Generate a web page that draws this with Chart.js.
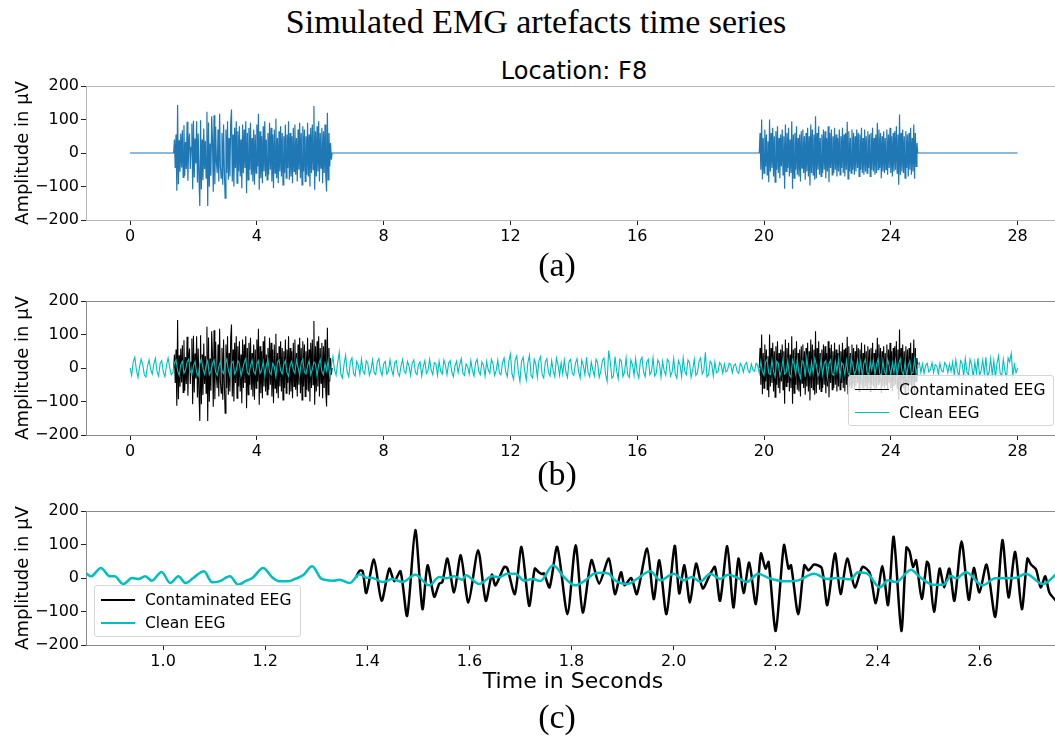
<!DOCTYPE html>
<html>
<head>
<meta charset="utf-8">
<script src="https://cdn.jsdelivr.net/npm/chart.js@4.4.1/dist/chart.umd.min.js"></script>
<style>
  body { margin: 0; background: #fff; }
  #wrap { position: relative; width: 1055px; height: 737px; overflow: hidden; background: #fff; }
  canvas { position: absolute; left: 0; }
  .txt { position: absolute; transform: translate(-50%, -50%); white-space: nowrap; color: #000; }
  .serif { font-family: 'Liberation Serif', 'DejaVu Serif', serif; }
  .sans { font-family: 'DejaVu Sans', sans-serif; }
  .legend { position: absolute; background: rgba(255,255,255,0.8); border: 1px solid #d6d6d6; border-radius: 3px;
            font-family: 'DejaVu Sans', sans-serif; font-size: 15.5px; color: #000; box-sizing: border-box; }
  .legend .row { position: absolute; left: 0; height: 20px; line-height: 20px; }
  .legend .sw { position: absolute; left: 6px; top: 9px; width: 34px; }
  .legend .lab { position: absolute; left: 50px; top: 0; white-space: nowrap; }
</style>
</head>
<body>
<div id="wrap">
  <div class="txt serif" style="left:536px; top:22px; font-size:34px;">Simulated EMG artefacts time series</div>
  <div class="txt sans" style="left:574px; top:71px; font-size:24px;">Location: F8</div>

  <canvas id="chartA" width="1055" height="176" style="top:74px"></canvas>
  <canvas id="chartB" width="1055" height="176" style="top:289px"></canvas>
  <canvas id="chartC" width="1055" height="176" style="top:499px"></canvas>

  <div class="txt serif" style="left:557px; top:265px; font-size:34px;">(a)</div>
  <div class="txt serif" style="left:557px; top:474px; font-size:34px;">(b)</div>
  <div class="txt sans" style="left:573px; top:680px; font-size:22px;">Time in Seconds</div>
  <div class="txt serif" style="left:557px; top:717px; font-size:34px;">(c)</div>

  <div class="legend" style="left:848px; top:375px; width:206px; height:51px;">
    <div class="row" style="top:4px; width:100%;"><span class="sw" style="border-top:1.5px solid #000"></span><span class="lab">Contaminated EEG</span></div>
    <div class="row" style="top:27px; width:100%;"><span class="sw" style="border-top:1.5px solid #00bfbf"></span><span class="lab">Clean EEG</span></div>
  </div>
  <div class="legend" style="left:94px; top:585px; width:207px; height:52px;">
    <div class="row" style="top:4px; width:100%;"><span class="sw" style="border-top:2.5px solid #000"></span><span class="lab">Contaminated EEG</span></div>
    <div class="row" style="top:27px; width:100%;"><span class="sw" style="border-top:2.5px solid #00bfbf"></span><span class="lab">Clean EEG</span></div>
  </div>
</div>

<script>
// ---- axes ----
const yTicks = [-200, -100, 0, 100, 200];
const yTickLabels = ['\u2212200', '\u2212100', '0', '100', '200'];
const longTicks = [0, 4, 8, 12, 16, 20, 24, 28];
const longTickLabels = ['0', '4', '8', '12', '16', '20', '24', '28'];
const zoomTicks = [1.0, 1.2, 1.4, 1.6, 1.8, 2.0, 2.2, 2.4, 2.6];
const zoomTickLabels = ['1.0', '1.2', '1.4', '1.6', '1.8', '2.0', '2.2', '2.4', '2.6'];

// ---- panels (a) / (b): EMG bursts, sampled every 0.025 s ----
const recordEdges = [0, 28];
const burst1Start = 1.375;
const burst2Start = 19.85;
const burstStep = 0.025;
const emgBurst1 = [
  0, 40, -45, 55, -113, 143, -93, 38, -56, 58, -43, 68, -73, 83, -68, 33, -48, 93, -83, 28,
  58, -48, 17, 88, -108, 96, -73, 43, -31, 95, -88, 58, -78, -158, 98, -108, 40, -81, 73, -48,
  36, -75, 123, -158, 91, -101, 28, -68, 110, 40, -116, 113, -93, 78, -28, -60, 70, -85, 117, -40,
  -75, 60, -95, 85, -50, -135, 70, -60, 95, -80, 45, -70, 90, 130, -85, 55, -100, 75, -45, 95,
  -90, 65, -55, 80, -70, 40, -105, 85, -60, 70, -45, 95, -120, 60, -80, 75, -50, 90, -65, 45,
  -85, 70, -95, 55, -60, 85, -40, 117, -110, 65, -75, 50, -90, 80, -55, 95, -70, 40, -80, 60,
  -65, 90, -50, 75, -85, 55, -105, 70, -60, 102, -75, 45, -90, 65, -55, 80, -70, 60, -95, 50,
  -60, 85, -75, 55, -45, 95, -80, 60, -70, 50, -90, 75, -55, 85, -65, 45, -85, 70, -50, 90,
  -75, 60, -95, 80, -55, 70, -85, 50, -65, 90, -70, 55, -100, 75, -60, 85, -50, 140, -110, 65,
  -70, 80, -55, 95, -85, 60, -45, 75, -90, 65, -60, 85, -70, -115, 120, -80, 60, -40, 30, -20,
  0
];
const emgBurst2 = [
  0, 60, -50, 100, -78, 45, -60, 70, -40, 55, -65, 35, -87, 100, -55, 60, -45, 75, -70, 50,
  -87, 65, -50, 80, -60, 45, -75, 55, -40, 70, -65, 50, -107, 85, -55, 60, -45, 75, -70, 40,
  -60, 95, -107, 55, -75, 60, -50, 80, -65, 45, -70, 55, -85, 65, -45, 70, -60, 50, -80, 60,
  -55, 75, -70, 50, -97, 85, -60, 70, -65, 55, -80, 110, -75, 60, -50, 80, -65, 45, -70, 55,
  -60, 70, -50, 65, -75, 45, -55, 80, -87, 60, -45, 70, -65, 50, -60, 75, -50, 55, -70, 45,
  -55, 70, -65, 50, -45, 75, -60, 55, -70, 60, -50, 93, -77, 65, -55, 45, -60, 70, -50, 60,
  -65, 50, -55, 70, -45, 60, -70, 55, -50, 75, -60, 45, -65, 70, -55, 50, -60, 65, -45, 55,
  -70, 60, -50, 75, -55, 45, -65, 55, -60, 90, -50, 70, -45, 60, -75, 50, -55, 65, -60, 45,
  -50, 70, -65, 55, -45, 75, -60, 50, -70, 60, -55, 65, -50, 80, -60, 55, -95, 115, -65, 60,
  -55, 70, -60, 50, -75, 65, -45, 55, -70, 60, -50, 75, -65, 45, -55, 85, -77, 60, -40, 30,
  0
];

// ---- panel (b): clean EEG, sampled every 0.05 s from 0 to 28 s ----
const cleanStep = 0.05;
const cleanEEG = [
  0, -22, 18, 32, -6, -28, 4, 26, 10, -20, -27, 6, 24, -4, -18, 12, 29, -10, -24, 14,
  22, -12, -26, 8, 30, 2, -20, -14, 16, 24, -8, -22, 10, 20, -16, -6, 18, 26, -10, -20,
  6, 20, -14, -24, 12, 28, -2, -18, 8, 22, -20, -10, 14, 24, -12, -22, 4, 18, -8, -16,
  10, 26, -6, -24, 14, 20, -18, -8, 22, 12, -24, -4, 16, 28, -14, -20, 6, 24, -10, -18,
  12, 22, -16, -6, 20, -22, 8, 26, -12, -20, 14, 4, -26, 18, 24, -8, -18, 10, 22, -14,
  -24, 8, 20, -6, -16, 24, 2, -22, 16, 26, -12, -18, 6, 22, -20, -4, 18, 12, -24, 10,
  26, -10, -20, 14, -8, 22, -26, 6, 34, -6, -22, 16, 47, -18, -30, 10, 38, -12, -26, 18,
  30, -16, -24, 20, 8, -20, 26, -10, -18, 22, 14, -22, -6, 24, -14, -20, 18, 28, -8, -22,
  12, 20, -18, -10, 24, -4, -22, 16, 22, -14, -24, 8, 26, -10, -16, 20, 6, -22, 14, 24,
  -12, -20, 10, 18, -24, 4, 22, -16, -8, 26, -6, -20, 16, 12, -22, 20, -10, -18, 24, 8,
  -20, 14, 22, -12, -26, 6, 20, -14, 10, 28, -16, -22, 12, 4, -18, 22, -8, -24, 16, 26,
  -10, -20, 18, 8, -24, 20, -6, -16, 26, 12, -22, -8, 24, -14, -20, 16, 30, -10, -26, 20,
  42, -18, -34, 24, 36, -12, -40, 20, 32, -8, -36, 16, 38, -22, -30, 26, 12, -28, 22, 34,
  -20, -30, 18, 28, -14, -24, 22, -8, -26, 30, 10, -22, 16, -18, 24, -12, -28, 20, 26, -16,
  -22, 14, 28, -10, -30, 24, 8, -20, 32, -14, -26, 18, -6, -24, 26, 16, -28, -10, 22, 30,
  -18, -40, 52, 18, -30, -24, 34, -8, -32, 26, 20, -26, -12, 30, -20, -28, 24, 10, -22, 28,
  -14, -30, 22, 32, -12, -26, 18, 26, -20, -10, 30, -24, -16, 24, 14, -28, 20, -8, -22, 26,
  18, -24, -12, 28, -18, -30, 22, 10, -26, 30, -10, -20, 24, 16, -28, -6, 26, -22, -14, 20,
  30, -18, -8, 47, -26, -20, 20, 12, -24, 18, -14, -10, 16, 8, -16, 12, -12, -6, 14, 10,
  -14, 8, 12, -10, -16, 14, 6, -12, 10, 16, -8, -14, 12, -6, -10, 14, 8, -16, 20, -12,
  -22, 18, 26, -16, -20, 24, -10, -26, 20, 14, -24, -8, 28, -18, -12, 22, -20, -28, 24, 10,
  -18, 26, -14, -30, 22, 16, -26, 30, -8, -22, 18, -16, 28, 10, -24, -12, 26, -20, 14, 22,
  -28, 12, 24, -18, -22, 20, -10, 26, -26, 16, 8, -20, 22, -14, -24, 28, 12, -18, -8, 24,
  -16, 20, -24, 14, 26, -12, -22, 18, -6, 24, -20, 10, 28, -16, -26, 22, -12, -20, 26, 6,
  -22, 16, -14, 24, -26, 12, 28, -10, -20, 18, -24, 8, 22, -18, -12, 26, -20, 10, 16, -14,
  12, -16, 8, 14, -12, -6, 16, -14, 10, 6, -18, 14, -8, -12, 16, 8, -14, 12, -10, 18,
  -20, 24, -8, -26, 22, 14, -24, 28, -12, -20, 26, 10, -28, 18, -16, 30, -22, -8, 24, -18,
  32, -26, -12, 28, -20, 22, -30, 14, 36, -16, -24, 26, -10, -28, 30, 18, 43, -22, 10, -14,
  0
];

// ---- panel (c): zoom 0.85 - 2.75 s ----
const zoomContamTimes = [
  1.378, 1.385, 1.391, 1.398, 1.413, 1.428, 1.443, 1.453, 1.465, 1.478, 1.494, 1.508, 1.518, 1.531, 1.541, 1.547,
  1.557, 1.570, 1.583, 1.598, 1.617, 1.632, 1.644, 1.651, 1.668, 1.674, 1.689, 1.702, 1.717, 1.728, 1.736, 1.742,
  1.746, 1.757, 1.772, 1.792, 1.808, 1.822, 1.839, 1.854, 1.873, 1.885, 1.897, 1.904, 1.917, 1.928, 1.948, 1.961,
  1.972, 1.986, 2.002, 2.011, 2.021, 2.032, 2.044, 2.057, 2.072, 2.081, 2.091, 2.105, 2.117, 2.127, 2.137, 2.148,
  2.161, 2.171, 2.180, 2.186, 2.200, 2.216, 2.225, 2.230, 2.244, 2.256, 2.264, 2.275, 2.290, 2.301, 2.316, 2.327,
  2.340, 2.355, 2.370, 2.384, 2.396, 2.409, 2.420, 2.431, 2.446, 2.456, 2.462, 2.469, 2.475, 2.486, 2.496, 2.500,
  2.510, 2.521, 2.530, 2.540, 2.550, 2.564, 2.578, 2.588, 2.599, 2.613, 2.630, 2.644, 2.656, 2.669, 2.682, 2.693,
  2.700, 2.710, 2.719, 2.728, 2.736, 2.750
];
const zoomContamValues = [
  2, 22, 20, -45, 55, -68, 28, -10, 20, -113, 143, -93, 38, -56, -17, -12,
  58, -43, 68, -73, 83, -68, 10, -22, 33, 30, -48, 93, -83, 28, 17, 12,
  14, -28, 93, -108, 98, -103, 53, -17, 58, -48, 17, -22, 0, -48, 88, -63,
  53, -108, 96, -46, 38, -73, 43, -31, 13, 33, -68, 95, -88, 58, -45, 46,
  -78, 73, 28, 48, -158, 98, 28, 38, -108, 38, 23, 40, 30, -81, 73, -48,
  58, -28, 33, 16, -75, 36, -81, 123, -158, 91, 80, 33, 53, -63, 48, 38,
  -101, 28, -28, 28, -68, 110, -65, 30, -43, 40, -116, 113, -58, 78, -93, 58,
  40, 25, -28, 5, -43, -70
];
const zoomCleanTimes = [
  0.850, 0.859, 0.878, 0.896, 0.905, 0.922, 0.939, 0.952, 0.965, 0.978, 0.997, 1.014, 1.030, 1.044, 1.059, 1.080,
  1.096, 1.110, 1.131, 1.147, 1.163, 1.175, 1.196, 1.213, 1.229, 1.245, 1.258, 1.274, 1.292, 1.310, 1.333, 1.346,
  1.365, 1.385, 1.398, 1.411, 1.430, 1.449, 1.469, 1.494, 1.521, 1.541, 1.554, 1.570, 1.586, 1.593, 1.619, 1.645,
  1.658, 1.674, 1.690, 1.707, 1.723, 1.739, 1.764, 1.785, 1.807, 1.827, 1.844, 1.860, 1.873, 1.885, 1.909, 1.928,
  1.954, 1.974, 2.000, 2.020, 2.036, 2.052, 2.072, 2.091, 2.107, 2.126, 2.143, 2.166, 2.186, 2.218, 2.244, 2.275,
  2.301, 2.321, 2.347, 2.361, 2.380, 2.404, 2.420, 2.436, 2.465, 2.482, 2.508, 2.528, 2.544, 2.553, 2.573, 2.605,
  2.630, 2.669, 2.690, 2.723, 2.750
];
const zoomCleanValues = [
  13, 5, 30, 5, 5, -18, 0, -3, 5, -8, 18, -15, 5, -15, 0, 20,
  -13, -10, 5, -20, -8, 0, 30, 3, -10, -10, -3, 8, 35, -2, -8, -5,
  -15, 11, 1, 0, -12, -3, -12, 10, -22, 3, -1, 5, -5, 8, -18, 5,
  2, 13, 13, -8, -3, -9, 38, 3, -22, -7, 13, 16, 13, -7, -18, -3,
  20, -7, 13, -7, 3, -11, 13, -3, 10, 0, -12, 13, 0, -10, -7, 13,
  -3, 0, -4, 17, 12, -28, -7, -12, 25, 3, -20, -20, 6, -1, 17, -22,
  -1, 0, 13, -18, 12
];

const BLUE = '#1f77b4';
const CYAN = '#00bfbf';
const FONT = 'DejaVu Sans';

const series = (start, step, vals) => vals.map((v, i) => ({ x: start + i * step, y: v }));
const paired = (ts, vals) => ts.map((t, i) => ({ x: t, y: vals[i] }));

const burst1Pts = series(burst1Start, burstStep, emgBurst1);
const burst2Pts = series(burst2Start, burstStep, emgBurst2);

const topSpine = {
  id: 'topSpine',
  afterDraw(chart, args, opts) {
    const { ctx, chartArea: a } = chart;
    ctx.save();
    ctx.strokeStyle = opts.color;
    ctx.lineWidth = 1;
    ctx.beginPath();
    ctx.moveTo(a.left, a.top + 0.5);
    ctx.lineTo(a.right, a.top + 0.5);
    ctx.stroke();
    ctx.restore();
  }
};

function scalesFor(xMin, xMax, xTicks, xLabels, spine) {
  return {
    x: {
      type: 'linear', min: xMin, max: xMax,
      afterBuildTicks: s => { s.ticks = xTicks.map(v => ({ value: v })); },
      afterFit: s => { s.height = 30; },
      ticks: { autoSkip: false, maxRotation: 0, padding: 2, color: '#000',
               font: { family: FONT, size: 16 }, callback: (v, i) => xLabels[i] },
      grid: { drawOnChartArea: false, tickLength: 5, tickColor: '#222' },
      border: { color: spine, width: 1 }
    },
    y: {
      type: 'linear', min: -200, max: 200,
      afterBuildTicks: s => { s.ticks = yTicks.map(v => ({ value: v })); },
      afterFit: s => { s.width = 86; },
      ticks: { autoSkip: false, padding: 2, color: '#000',
               font: { family: FONT, size: 16 }, callback: (v, i) => yTickLabels[i] },
      grid: { drawOnChartArea: false, tickLength: 5, tickColor: '#222' },
      border: { color: spine, width: 1 },
      title: { display: true, text: 'Amplitude in \u03bcV', color: '#000',
               font: { family: FONT, size: 18 }, padding: { top: 13, bottom: 0 } }
    }
  };
}

function makeChart(id, datasets, scales, spine) {
  return new Chart(document.getElementById(id), {
    type: 'line',
    data: { datasets },
    options: {
      responsive: false,
      animation: false,
      devicePixelRatio: 1,
      layout: { padding: { top: 12, right: 0, left: 0, bottom: 0 } },
      elements: { point: { radius: 0 } },
      plugins: { legend: { display: false }, tooltip: { enabled: false }, topSpine: { color: spine } },
      scales
    },
    plugins: [topSpine]
  });
}

// (a) EMG artefact alone
makeChart('chartA', [{
  data: [{ x: recordEdges[0], y: 0 }, ...burst1Pts, ...burst2Pts, { x: recordEdges[1], y: 0 }],
  borderColor: BLUE, borderWidth: 1.2, tension: 0
}], scalesFor(-1.39, 29.18, longTicks, longTickLabels, '#b5b5b5'), '#b5b5b5');

// (b) contaminated vs clean over the whole record
makeChart('chartB', [
  { label: 'Clean EEG', data: series(recordEdges[0], cleanStep, cleanEEG),
    borderColor: CYAN, borderWidth: 1.1, tension: 0, order: 0 },
  { label: 'Contaminated EEG', data: [...burst1Pts, { x: 10, y: null }, ...burst2Pts],
    borderColor: '#000', borderWidth: 1.1, tension: 0, order: 1 }
], scalesFor(-1.39, 29.18, longTicks, longTickLabels, '#8a8a8a'), '#8a8a8a');

// (c) zoom on the start of the first burst
makeChart('chartC', [
  { label: 'Clean EEG', data: paired(zoomCleanTimes, zoomCleanValues),
    borderColor: CYAN, borderWidth: 2.5, cubicInterpolationMode: 'monotone', order: 0 },
  { label: 'Contaminated EEG', data: paired(zoomContamTimes, zoomContamValues),
    borderColor: '#000', borderWidth: 2.5, tension: 0.25, order: 1 }
], scalesFor(0.849, 2.747, zoomTicks, zoomTickLabels, '#8a8a8a'), '#8a8a8a');
</script>
</body>
</html>
